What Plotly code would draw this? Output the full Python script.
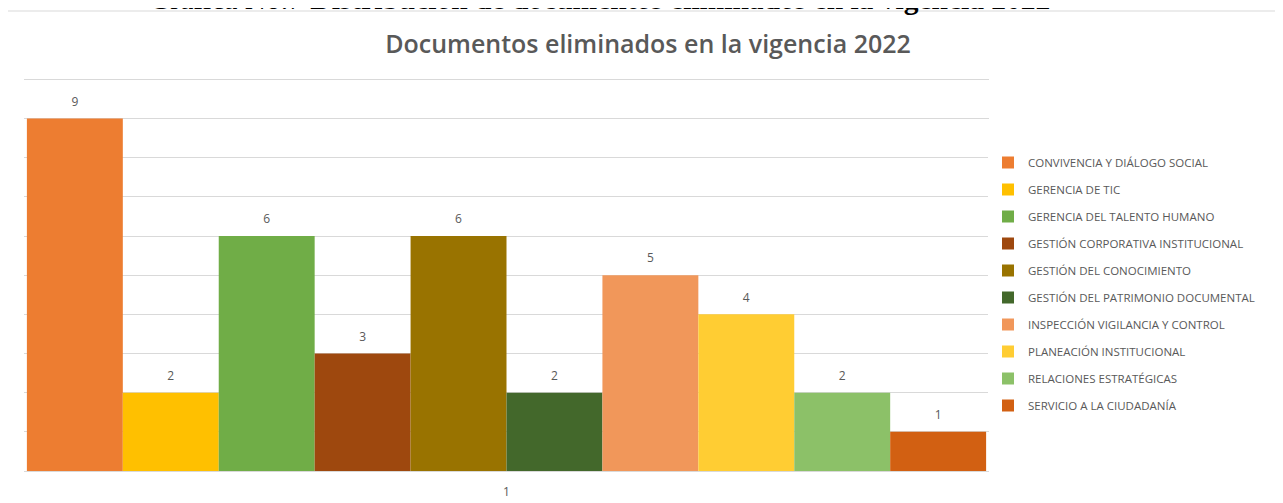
import plotly.graph_objects as go

categories = ["1"]
series_names = [
    "CONVIVENCIA Y DIÁLOGO SOCIAL",
    "GERENCIA DE TIC",
    "GERENCIA DEL TALENTO HUMANO",
    "GESTIÓN CORPORATIVA INSTITUCIONAL",
    "GESTIÓN DEL CONOCIMIENTO",
    "GESTIÓN DEL PATRIMONIO DOCUMENTAL",
    "INSPECCIÓN VIGILANCIA Y CONTROL",
    "PLANEACIÓN INSTITUCIONAL",
    "RELACIONES ESTRATÉGICAS",
    "SERVICIO A LA CIUDADANÍA",
]
series_values = [9, 2, 6, 3, 6, 2, 5, 4, 2, 1]
colors = ["#ED7D31", "#FFC000", "#70AD47", "#9E480E", "#997300",
          "#43682B", "#F1975A", "#FFCD33", "#8CC168", "#D26012"]

# page body has an 8px margin; work in figure pixels = reference pixels - 8
OFF = 8
W, H = 1283 - OFF, 503 - OFF
YMAX = 10.06          # slightly above 10 so the top gridline is drawn
unit = (471 - 79) / 10
ml = 24 - OFF
mr = W - (989 - OFF)
mb = H - (471 - OFF)
mt = round(79 - OFF - (YMAX - 10) * unit)
pw, ph = W - ml - mr, H - mt - mb

def px_x(p):
    return (p - ml) / pw

def px_y(p):
    return (H - mb - p) / ph

fig = go.Figure()
for name, val, col in zip(series_names, series_values, colors):
    fig.add_trace(go.Bar(
        x=categories, y=[val], name=name, marker_color=col,
        marker_line_width=0, legendgroup=name,
    ))
for name, val in zip(series_names, series_values):
    fig.add_trace(go.Scatter(
        x=categories, y=[val], mode="markers+text", text=[str(val)],
        textposition="top center", marker=dict(size=14, opacity=0),
        textfont=dict(size=12, color="#595959", family="Open Sans"),
        cliponaxis=False, showlegend=False, hoverinfo="skip",
        legendgroup=name,
    ))

fig.update_layout(
    width=W, height=H,
    margin=dict(l=ml, r=mr, t=mt, b=mb),
    paper_bgcolor="white", plot_bgcolor="white",
    barmode="group", bargap=0.006, bargroupgap=0,
    scattermode="group", scattergap=0.006,
    font=dict(family="Open Sans", color="#595959"),
    title=dict(text="Documentos eliminados en la vigencia 2022",
               x=640 / W, xanchor="center", y=1 - 36 / H, yanchor="middle",
               font=dict(size=25, color="#595959", family="Open Sans", weight=600)),
    xaxis=dict(showgrid=False, showline=True, linecolor="#D9D9D9", linewidth=1,
               ticks="", tickfont=dict(size=12, color="#595959"), type="category",
               ticklabelstandoff=10, automargin=False),
    yaxis=dict(range=[0, YMAX], dtick=1, showgrid=True, gridcolor="#D9D9D9",
               gridwidth=1, showticklabels=False, zeroline=False, showline=False,
               automargin=False),
    legend=dict(x=px_x(988 - OFF), xanchor="left", y=px_y(148 - OFF), yanchor="top",
                traceorder="grouped", tracegroupgap=8, itemwidth=30,
                font=dict(size=11.5, color="#595959", family="Open Sans"),
                itemclick=False),
    showlegend=True,
)

fig.add_shape(type="rect", xref="paper", yref="paper",
              x0=px_x(7 - OFF), x1=px_x(W + 20), y0=px_y(H + 20), y1=px_y(11 - OFF),
              line=dict(color="#D9D9D9", width=1), layer="below")

fig.add_annotation(text="Gráfica No.7 <b>Distribución de documentos eliminados en la vigencia 2022</b>",
                   xref="paper", yref="paper", x=px_x(599 - OFF), y=px_y(17 - OFF),
                   xanchor="center", yanchor="bottom", showarrow=False,
                   font=dict(size=29.5, color="black", family="Liberation Serif"))

fig.write_html("out.html")
